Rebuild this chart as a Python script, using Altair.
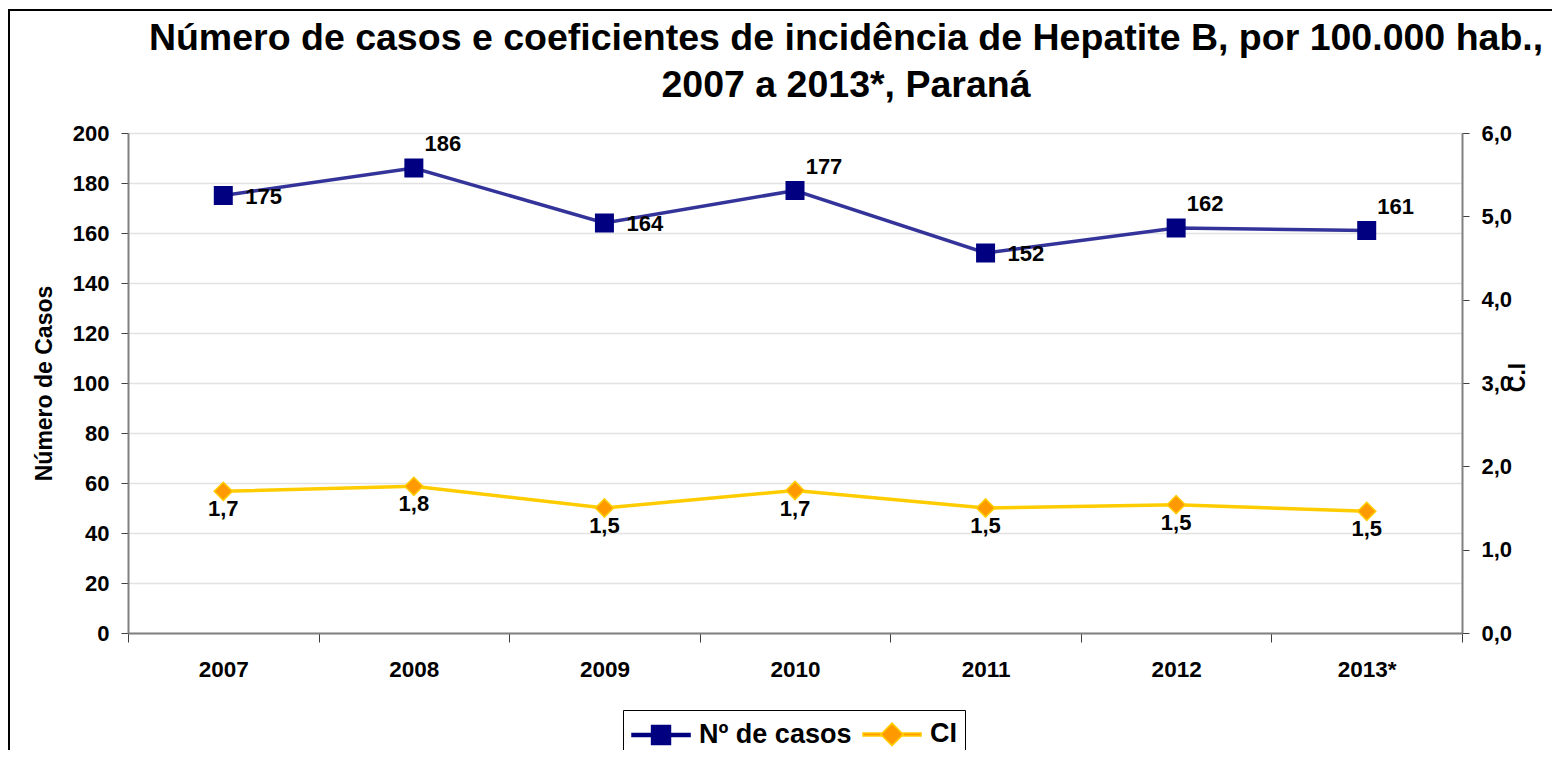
import altair as alt
import pandas as pd

# ---- data ----
years = ["2007", "2008", "2009", "2010", "2011", "2012", "2013*"]
casos = [175, 186, 164, 177, 152, 162, 161]
ci = [1.70, 1.76, 1.50, 1.71, 1.50, 1.54, 1.46]
casos_label_side = ["right", "above", "right", "above", "right", "above", "above"]
series = ["Nº de casos", "CI"]
title_lines = [
    "Número de casos e coeficientes de incidência de Hepatite B, por 100.000 hab.,",
    "2007 a 2013*, Paraná",
]
left_ticks = list(range(0, 201, 20))
right_ticks = [0, 1, 2, 3, 4, 5, 6]

FONT = "Liberation Sans"
BLUE_LINE = "#333399"
NAVY = "#000080"
YELLOW = "#FFCC00"
ORANGE = "#FF9900"
AXIS_GRAY = "#808080"
TICK = "#404040"

df = pd.DataFrame({"ano": years, "casos": casos, "ci": ci, "lado": casos_label_side})

x_enc = alt.X(
    "ano:N",
    sort=years,
    bandPosition=0.5,
    scale=alt.Scale(type="band", paddingInner=0, paddingOuter=0),
    axis=alt.Axis(
        title=None, tickBand="extent", labelAngle=0, labelFont=FONT,
        labelFontSize=22.5, labelFontWeight="bold", labelColor="black",
        labelPadding=16, tickSize=9, tickColor=TICK, tickWidth=1,
        domainColor=AXIS_GRAY, domainWidth=2, grid=False,
    ),
)

y_left = alt.Y(
    "casos:Q",
    scale=alt.Scale(domain=[0, 200], nice=False, zero=True),
    axis=alt.Axis(
        orient="left", values=left_ticks, title="Número de Casos",
        titleFont=FONT, titleFontSize=23, titleFontWeight="bold", titleColor="black",
        titlePadding=16, labelFont=FONT, labelFontSize=22, labelFontWeight="bold",
        labelColor="black", labelPadding=12, tickSize=7, tickColor=TICK,
        domainColor=AXIS_GRAY, domainWidth=2, grid=True, gridColor="#e2e2e2",
        gridWidth=1.5,
    ),
)

y_right = alt.Y(
    "ci:Q",
    scale=alt.Scale(domain=[0, 6], nice=False, zero=True),
    axis=alt.Axis(
        orient="right", values=right_ticks,
        labelExpr="replace(format(datum.value, '.1f'), '.', ',')",
        title="C.I", titleFont=FONT, titleFontSize=23, titleFontWeight="bold",
        titleColor="black", titleAngle=270, titleX=67, titleY=244,
        labelFont=FONT, labelFontSize=22, labelFontWeight="bold", labelColor="black",
        labelPadding=12, tickSize=7, tickColor=TICK, domainColor=AXIS_GRAY,
        domainWidth=2, grid=False,
    ),
)

text_style = dict(font=FONT, fontSize=22, fontWeight="bold", color="black")

base_l = alt.Chart(df).encode(x=x_enc, y=y_left)
line_l = base_l.mark_line(color=BLUE_LINE, strokeWidth=3.5)
pts_l = base_l.mark_point(shape="square", size=361, filled=True, color=NAVY, opacity=1)
lab_right = base_l.transform_filter("datum.lado == 'right'").mark_text(
    align="left", baseline="middle", dx=22, dy=1, **text_style
).encode(text="casos:Q")
lab_above = base_l.transform_filter("datum.lado == 'above'").mark_text(
    align="center", baseline="middle", dx=29, dy=-24, **text_style
).encode(text="casos:Q")
left = alt.layer(line_l, pts_l, lab_right, lab_above)

base_r = alt.Chart(df).encode(x=x_enc, y=y_right)
line_r = base_r.mark_line(color=YELLOW, strokeWidth=3.5)
pts_r = base_r.mark_point(shape="diamond", size=330, filled=True, fill=ORANGE,
                          stroke=YELLOW, strokeWidth=1.5, opacity=1)
lab_ci = base_r.transform_calculate(
    lbl="replace(format(datum.ci, '.1f'), '.', ',')"
).mark_text(align="center", baseline="middle", dy=18, **text_style).encode(text="lbl:N")
right = alt.layer(line_r, pts_r, lab_ci)

# legend symbols: line stub with marker (path units: 1 = 15 px at size 900)
sq_path = "M-1,-0.1H2.87V0.1H-1Z M0.305,-0.63H1.565V0.63H0.305Z"
di_path = ("M-1,-0.1H0.185V0.1H-1Z M1.685,-0.1H2.87V0.1H1.685Z "
           "M0.935,-0.75L1.685,0L0.935,0.75L0.185,0Z")
leg_df = pd.DataFrame({"serie": series})
leg_spec = alt.Legend(
    orient="none", legendX=495, legendY=577, direction="horizontal", title=None,
    symbolSize=900, symbolOpacity=1, symbolStrokeWidth=1.5,
    labelFont=FONT, labelFontSize=27, labelFontWeight="bold", labelColor="black",
    labelOffset=36, columnPadding=8, padding=8, strokeColor="black",
)
legend_layer = alt.Chart(leg_df).mark_point(filled=True, opacity=0, size=10).encode(
    x=alt.value(0), y=alt.value(0),
    shape=alt.Shape("serie:N", sort=series,
                    scale=alt.Scale(domain=series, range=[sq_path, di_path]), legend=leg_spec),
    fill=alt.Fill("serie:N", sort=series,
                  scale=alt.Scale(domain=series, range=[NAVY, ORANGE]), legend=leg_spec),
    stroke=alt.Stroke("serie:N", sort=series,
                      scale=alt.Scale(domain=series, range=[NAVY, YELLOW]), legend=leg_spec),
)

border = alt.Chart(pd.DataFrame({"k": [0]})).mark_rect(
    fillOpacity=0, stroke="black", strokeWidth=2
).encode(x=alt.value(-119), x2=alt.value(1700), y=alt.value(-123), y2=alt.value(900))

chart = alt.layer(border, left, right, legend_layer).resolve_scale(
    y="independent"
).properties(
    width=1334,
    height=500,
    autosize=alt.AutoSizeParams(type="none"),
    padding={"left": 120, "top": 125, "right": 90, "bottom": 117},
    title=alt.TitleParams(
        text=title_lines, font=FONT, fontSize=37.5, fontWeight="bold", color="black",
        anchor="middle", frame="group", dx=51, offset=-95, lineHeight=47,
    ),
).configure_view(stroke=None).configure(background="white")

chart.save("out.html", embed_options={"renderer": "svg", "actions": False})
